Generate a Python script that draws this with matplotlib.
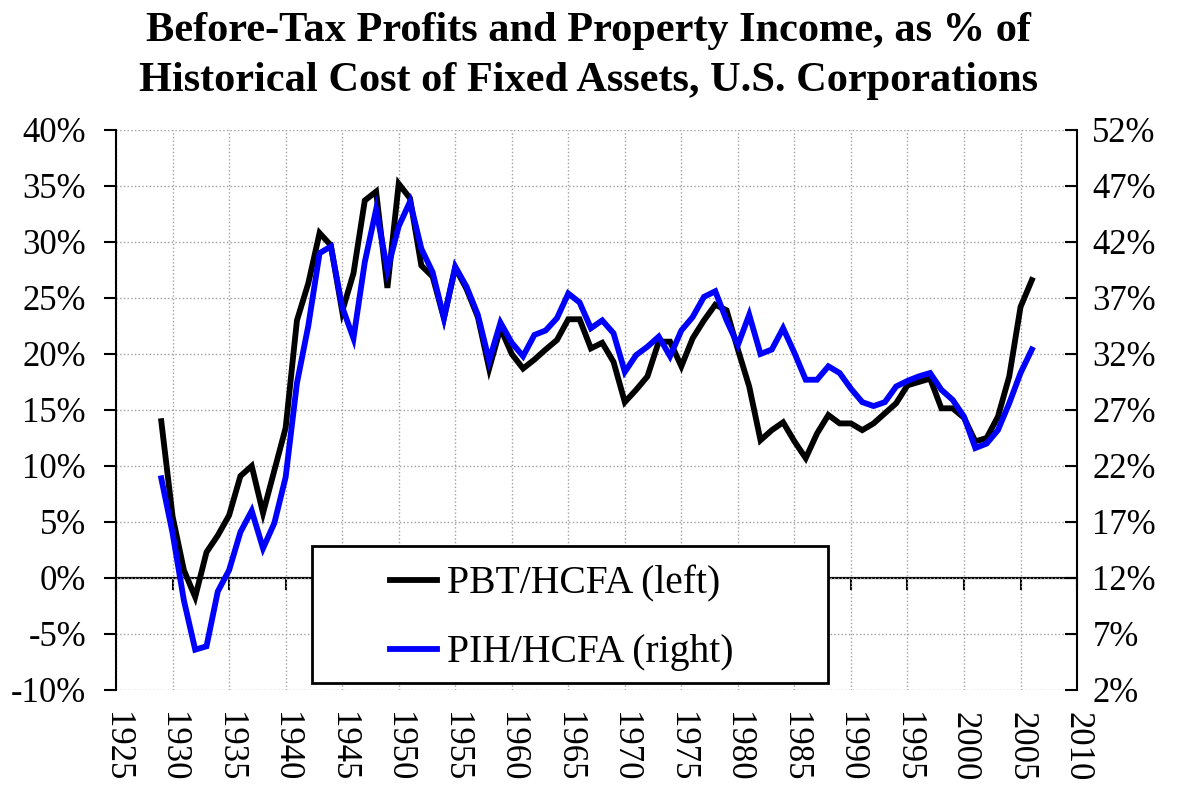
import matplotlib
matplotlib.use("Agg")
import matplotlib.pyplot as plt
from matplotlib.patches import Rectangle
from matplotlib.lines import Line2D
from matplotlib.ticker import FuncFormatter

plt.rcParams['font.family'] = ['Liberation Serif', 'DejaVu Serif']

# ---- data ----
years = list(range(1929, 2007))
pbt_hcfa = [14.0, 5.5, 0.7, -1.7, 2.3, 3.8, 5.6, 9.1, 10.0, 5.8,
            9.6, 13.4, 23.0, 26.3, 30.8, 29.7, 23.8, 27.2, 33.7, 34.5,
            25.9, 35.2, 33.9, 27.9, 26.9, 23.2, 27.7, 25.8, 23.3, 18.7,
            22.3, 20.0, 18.7, 19.5, 20.4, 21.25, 23.1, 23.1, 20.5, 21.0,
            19.3, 15.7, 16.8, 18.0, 21.1, 21.1, 18.9, 21.4, 23.0, 24.4,
            23.9, 20.4, 17.1, 12.3, 13.2, 13.9, 12.2, 10.7, 12.9, 14.55,
            13.8, 13.8, 13.2, 13.8, 14.7, 15.6, 17.2, 17.5, 17.8, 15.15,
            15.15, 14.3, 12.2, 12.5, 14.4, 18.0, 24.2, 26.6]
pih_hcfa = [20.9, 16.0, 10.0, 5.6, 5.9, 10.8, 12.7, 16.1, 18.0, 14.65,
            16.9, 21.0, 29.4, 34.5, 41.0, 41.6, 36.2, 33.4, 40.2, 44.9,
            39.5, 43.4, 45.6, 41.4, 39.3, 35.2, 39.8, 38.0, 35.5, 31.4,
            34.8, 33.0, 31.8, 33.7, 34.1, 35.2, 37.4, 36.6, 34.3, 35.0,
            33.85, 30.4, 31.9, 32.65, 33.55, 31.8, 34.1, 35.3, 37.1, 37.6,
            35.0, 32.8, 35.5, 32.0, 32.4, 34.3, 32.1, 29.7, 29.7, 30.9,
            30.3, 28.9, 27.7, 27.35, 27.7, 29.1, 29.6, 30.0, 30.3, 28.8,
            27.9, 26.4, 23.6, 24.0, 25.2, 27.6, 30.3, 32.4]
x_ticks = list(range(1925, 2011, 5))
left_ticks = list(range(-10, 41, 5))
right_ticks = list(range(2, 53, 5))
series_labels = ["PBT/HCFA (left)", "PIH/HCFA (right)"]
title = ("Before-Tax Profits and Property Income, as % of\n"
         "Historical Cost of Fixed Assets, U.S. Corporations")

LW = 4.2

# ---- figure ----
fig = plt.figure(figsize=(11.77, 7.93), dpi=100)
ax = fig.add_axes([0.0986, 0.1299, 0.8165, 0.7062])
ax.set_xlim(x_ticks[0], x_ticks[-1])
ax.set_ylim(left_ticks[0], left_ticks[-1])

pct = FuncFormatter(lambda v, p: f"{v:.0f}%")

ax.set_xticks(x_ticks)
ax.set_xticklabels([str(t) for t in x_ticks], rotation=-90, va='top', ha='center')
ax.tick_params(axis='x', length=0, pad=16, labelsize=25)
ax.set_yticks(left_ticks)
ax.yaxis.set_major_formatter(pct)
ax.tick_params(axis='y', direction='out', length=8.6, width=1.5, pad=13, labelsize=25)
ax.grid(True, color='#a0a0a0', linestyle=':', linewidth=1.0)
for s in ['top', 'bottom', 'right']:
    ax.spines[s].set_visible(False)
ax.spines['left'].set_linewidth(1.5)

# zero-crossing x axis with ticks
ax.axhline(0, color='black', lw=1.5, zorder=1.5)
zero_frac = (0 - left_ticks[0]) / (left_ticks[-1] - left_ticks[0])
sec = ax.secondary_xaxis(zero_frac)
sec.set_xticks(x_ticks)
sec.tick_params(axis='x', direction='out', length=8.6, width=1.5,
                bottom=True, top=False, labelbottom=False, labeltop=False)
for s in sec.spines.values():
    s.set_linewidth(1.5)

ax.plot(years, pbt_hcfa, color='black', lw=LW, solid_joinstyle='miter', zorder=3)

ax2 = ax.twinx()
ax2.set_ylim(right_ticks[0], right_ticks[-1])
ax2.set_yticks(right_ticks)
ax2.yaxis.set_major_formatter(pct)
ax2.tick_params(axis='y', direction='in', length=8.6, width=1.5, pad=11, labelsize=25)
for s in ['top', 'bottom', 'left']:
    ax2.spines[s].set_visible(False)
ax2.spines['right'].set_linewidth(1.5)
ax2.plot(years, pih_hcfa, color='#0000ff', lw=LW, solid_joinstyle='miter')

# legend with framed box
box = Rectangle((0.204, 0.0125), 0.537, 0.2445, transform=ax2.transAxes,
                facecolor='white', edgecolor='black', lw=2, zorder=5)
ax2.add_patch(box)
handles = [Line2D([], [], color='black', lw=LW), Line2D([], [], color='#0000ff', lw=LW)]
leg = ax2.legend(handles, series_labels, loc='upper left', bbox_to_anchor=(0.285, 0.222),
                 frameon=False, fontsize=28.5, handlelength=1.2, handletextpad=0.25,
                 labelspacing=0.8, borderpad=0, borderaxespad=0)
leg.set_zorder(6)

fig.text(0.5, 0.985, title, ha='center', va='top', fontsize=30.5, fontweight='bold',
         linespacing=1.42)

fig.savefig("out.png", dpi=100)
